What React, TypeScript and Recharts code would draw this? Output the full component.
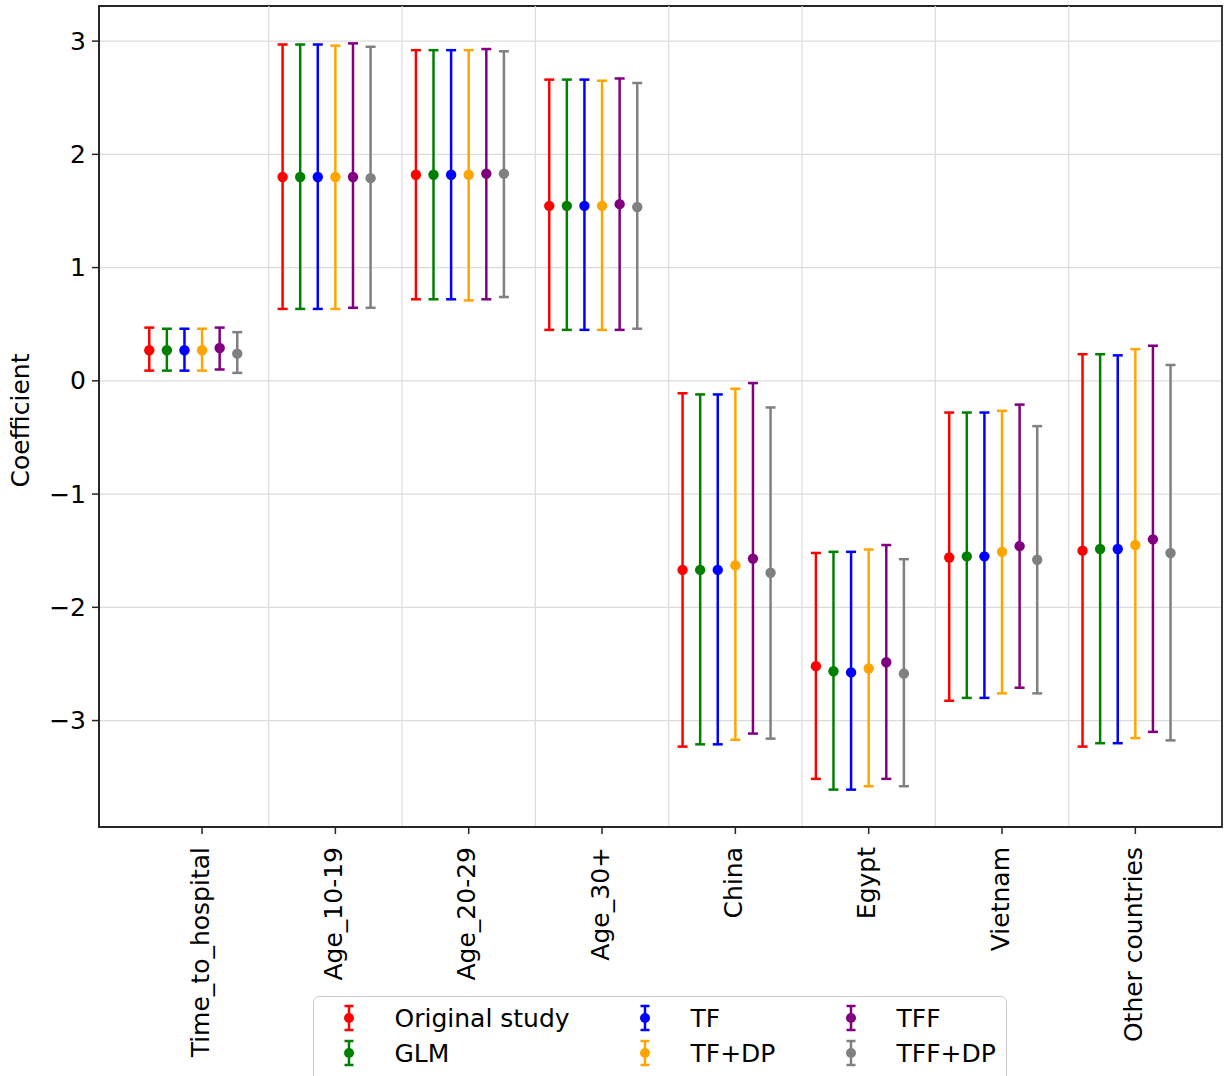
import React from 'react';
import {
  ComposedChart,
  Scatter,
  ErrorBar,
  XAxis,
  YAxis,
  CartesianGrid,
  ReferenceLine,
  ReferenceArea,
  Legend,
} from 'recharts';

const categories = ['Time_to_hospital', 'Age_10-19', 'Age_20-29', 'Age_30+', 'China', 'Egypt', 'Vietnam', 'Other countries'];
const yTicks = [-3, -2, -1, 0, 1, 2, 3];

const seriesNames = ['Original study', 'GLM', 'TF', 'TF+DP', 'TFF', 'TFF+DP'];
const seriesColors = ['#ff0000', '#008000', '#0000ff', '#ffa500', '#800080', '#808080'];

const originalCoef = [0.27, 1.80, 1.82, 1.545, -1.67, -2.52, -1.56, -1.50];
const originalLow = [0.09, 0.635, 0.72, 0.45, -3.23, -3.515, -2.825, -3.23];
const originalHigh = [0.47, 2.97, 2.92, 2.66, -0.11, -1.52, -0.28, 0.235];

const glmCoef = [0.27, 1.80, 1.82, 1.545, -1.67, -2.565, -1.55, -1.485];
const glmLow = [0.09, 0.635, 0.72, 0.45, -3.21, -3.61, -2.80, -3.20];
const glmHigh = [0.46, 2.97, 2.92, 2.66, -0.12, -1.51, -0.28, 0.235];

const tfCoef = [0.27, 1.80, 1.82, 1.545, -1.67, -2.575, -1.55, -1.485];
const tfLow = [0.09, 0.635, 0.72, 0.45, -3.21, -3.61, -2.80, -3.20];
const tfHigh = [0.46, 2.97, 2.92, 2.66, -0.12, -1.51, -0.28, 0.225];

const tfdpCoef = [0.27, 1.80, 1.82, 1.545, -1.63, -2.54, -1.51, -1.45];
const tfdpLow = [0.09, 0.635, 0.71, 0.45, -3.17, -3.58, -2.76, -3.155];
const tfdpHigh = [0.46, 2.96, 2.92, 2.65, -0.07, -1.49, -0.265, 0.28];

const tffCoef = [0.29, 1.80, 1.83, 1.56, -1.57, -2.485, -1.46, -1.40];
const tffLow = [0.10, 0.645, 0.72, 0.45, -3.115, -3.515, -2.71, -3.10];
const tffHigh = [0.47, 2.98, 2.93, 2.67, -0.02, -1.45, -0.21, 0.31];

const tffdpCoef = [0.24, 1.79, 1.83, 1.535, -1.695, -2.585, -1.58, -1.52];
const tffdpLow = [0.07, 0.645, 0.74, 0.46, -3.16, -3.58, -2.76, -3.175];
const tffdpHigh = [0.43, 2.95, 2.91, 2.63, -0.235, -1.575, -0.40, 0.14];

const seriesCoef = [originalCoef, glmCoef, tfCoef, tfdpCoef, tffCoef, tffdpCoef];
const seriesLow = [originalLow, glmLow, tfLow, tfdpLow, tffLow, tffdpLow];
const seriesHigh = [originalHigh, glmHigh, tfHigh, tfdpHigh, tffHigh, tffdpHigh];

const FONT = '"DejaVu Sans", sans-serif';
const FS = 25;
const AXIS_COLOR = '#262626';
const GRID_COLOR = '#dcdcdc';
const STEP = 0.132;
const X_DOMAIN = [-0.773, 7.65];
const Y_DOMAIN = [-3.94, 3.31];

const seriesData = seriesNames.map((name, s) =>
  categories.map((c, i) => ({
    x: i + (s - 3) * STEP,
    y: seriesCoef[s][i],
    err: [seriesCoef[s][i] - seriesLow[s][i], seriesHigh[s][i] - seriesCoef[s][i]],
  }))
);

const XTick = (props: any) => {
  const { x, y, payload } = props;
  const ty = y + 11;
  return (
    <text
      x={x - 2}
      y={ty}
      transform={`rotate(-90, ${x - 2}, ${ty})`}
      textAnchor="end"
      dominantBaseline="central"
      fontFamily={FONT}
      fontSize={FS}
      fill="#000"
    >
      {categories[payload.value]}
    </text>
  );
};

const YTick = (props: any) => {
  const { x, y, payload } = props;
  const v = payload.value as number;
  const label = v < 0 ? '\u2212' + Math.abs(v) : String(v);
  return (
    <text x={x - 1} y={y} textAnchor="end" dominantBaseline="central" fontFamily={FONT} fontSize={FS} fill="#000">
      {label}
    </text>
  );
};

const YLabel = (props: any) => {
  const vb = props.viewBox || {};
  const cx = 20;
  const cy = (vb.y || 0) + (vb.height || 0) / 2 + 4;
  return (
    <text
      x={cx}
      y={cy}
      transform={`rotate(-90, ${cx}, ${cy})`}
      textAnchor="middle"
      dominantBaseline="central"
      fontFamily={FONT}
      fontSize={FS}
      fill="#000"
    >
      Coefficient
    </text>
  );
};

const LegendIcon = ({ color }: { color: string }) => (
  <svg width={14} height={30} style={{ display: 'block' }}>
    <line x1={7} y1={3} x2={7} y2={27} stroke={color} strokeWidth={2.5} />
    <line x1={2.5} y1={3} x2={11.5} y2={3} stroke={color} strokeWidth={2.5} />
    <line x1={2.5} y1={27} x2={11.5} y2={27} stroke={color} strokeWidth={2.5} />
    <circle cx={7} cy={15} r={5} fill={color} />
  </svg>
);

const colIconX = [36, 332, 538];
const colTextX = [82, 378, 584];
const rowY = [22, 57];

const renderLegend = () => (
  <div
    style={{
      position: 'relative',
      width: 694,
      height: 90,
      border: '1.5px solid #cccccc',
      borderRadius: 6,
      background: 'rgba(255,255,255,0.85)',
      boxSizing: 'border-box',
      fontFamily: FONT,
      fontSize: FS,
      color: '#000',
    }}
  >
    {seriesNames.map((name, s) => {
      const col = Math.floor(s / 2);
      const row = s % 2;
      return (
        <React.Fragment key={name}>
          <div style={{ position: 'absolute', left: colIconX[col] - 7 - 1.5, top: rowY[row] - 15 - 1.5 }}>
            <LegendIcon color={seriesColors[s]} />
          </div>
          <div
            style={{
              position: 'absolute',
              left: colTextX[col] - 1.5,
              top: rowY[row] - 1.5,
              transform: 'translateY(-50%)',
              whiteSpace: 'nowrap',
              lineHeight: 1,
            }}
          >
            {name}
          </div>
        </React.Fragment>
      );
    })}
  </div>
);

const Dot = (color: string) => (props: any) => {
  const { cx, cy } = props;
  if (cx == null || cy == null) return null;
  return <circle cx={cx} cy={cy} r={5.2} fill={color} />;
};

export default function App() {
  return (
    <div style={{ position: 'absolute', left: 0, top: 0, width: 1225, height: 1076, background: '#fff', overflow: 'hidden' }}>
      <ComposedChart
        width={1225}
        height={1076}
        margin={{ top: 6, right: 3, bottom: 0, left: 0 }}
        style={{ background: '#fff' }}
      >
        <CartesianGrid vertical={false} stroke={GRID_COLOR} strokeWidth={1.2} />
        {[0.5, 1.5, 2.5, 3.5, 4.5, 5.5, 6.5].map((gx) => (
          <ReferenceLine key={gx} x={gx} stroke={GRID_COLOR} strokeWidth={1.2} />
        ))}
        <XAxis
          type="number"
          dataKey="x"
          domain={X_DOMAIN}
          allowDataOverflow
          ticks={categories.map((c, i) => i)}
          interval={0}
          height={249}
          tickSize={7}
          tick={<XTick />}
          axisLine={{ stroke: AXIS_COLOR, strokeWidth: 1.8 }}
          tickLine={{ stroke: AXIS_COLOR, strokeWidth: 1.5 }}
        />
        <YAxis
          type="number"
          dataKey="y"
          domain={Y_DOMAIN}
          allowDataOverflow
          ticks={yTicks}
          interval={0}
          width={99}
          tickSize={7}
          tickMargin={5}
          tick={<YTick />}
          axisLine={{ stroke: AXIS_COLOR, strokeWidth: 1.8 }}
          tickLine={{ stroke: AXIS_COLOR, strokeWidth: 1.5 }}
          label={<YLabel />}
        />
        <ReferenceArea
          x1={X_DOMAIN[0]}
          x2={X_DOMAIN[1]}
          y1={Y_DOMAIN[0]}
          y2={Y_DOMAIN[1]}
          fill="none"
          fillOpacity={0}
          stroke={AXIS_COLOR}
          strokeWidth={1.8}
          ifOverflow="visible"
        />
        {seriesNames.map((name, s) => (
          <Scatter
            key={name}
            name={name}
            data={seriesData[s]}
            dataKey="y"
            fill={seriesColors[s]}
            shape={Dot(seriesColors[s])}
            isAnimationActive={false}
          >
            <ErrorBar
              dataKey="err"
              direction="y"
              width={5}
              stroke={seriesColors[s]}
              strokeWidth={2.5}
              isAnimationActive={false}
            />
          </Scatter>
        ))}
        <Legend
          content={renderLegend}
          layout="horizontal"
          verticalAlign="middle"
          align="center"
          wrapperStyle={{ position: 'absolute', left: 313, top: 996, width: 694, height: 90 }}
        />
      </ComposedChart>
    </div>
  );
}
